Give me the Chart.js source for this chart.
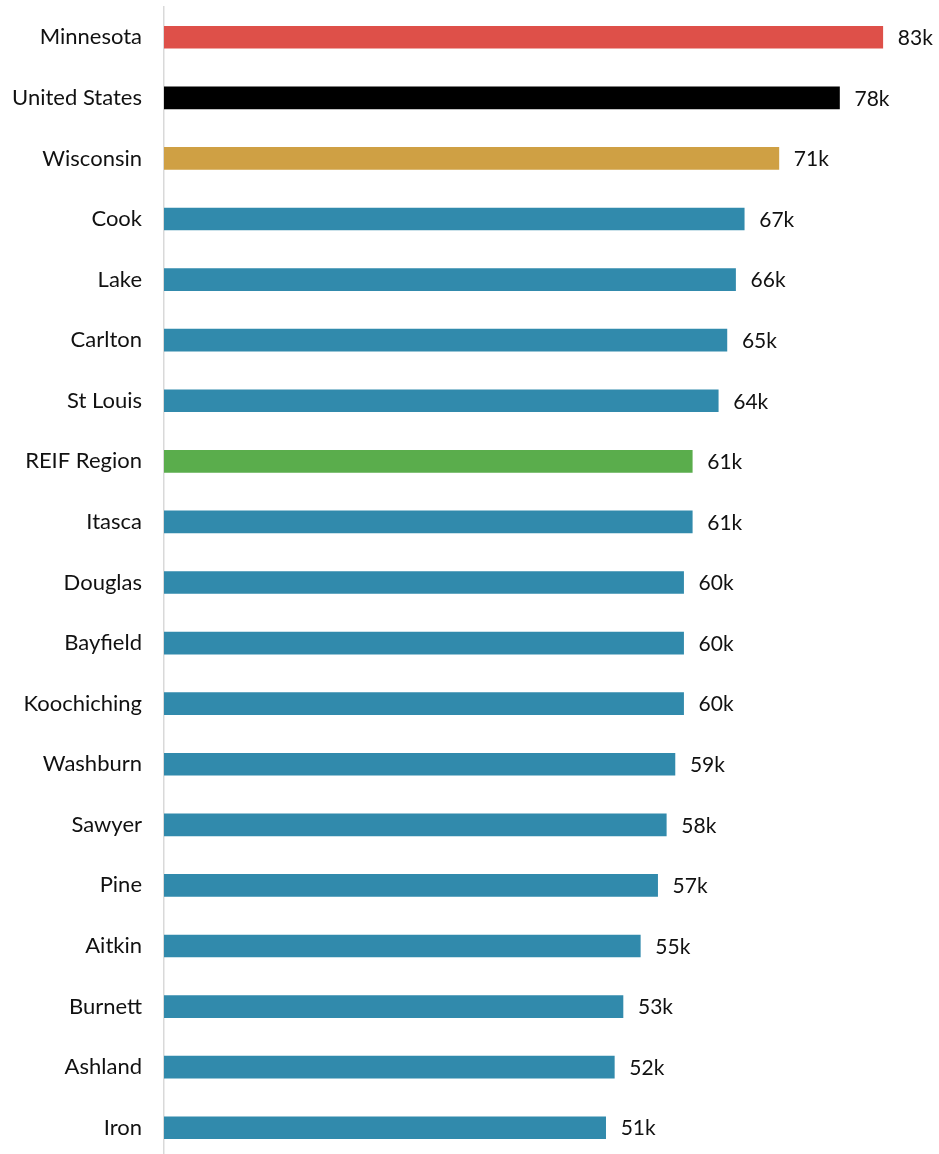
<!DOCTYPE html>
<html>
<head>
<meta charset="utf-8">
<script src="https://cdn.jsdelivr.net/npm/chart.js@4"></script>
<style>
html,body{margin:0;padding:0;background:#fff;overflow:hidden;}
#wrap{width:939px;height:1158px;position:relative;}
</style>
</head>
<body>
<div id="wrap"><canvas id="c"></canvas></div>
<script>
const places = ['Minnesota','United States','Wisconsin','Cook','Lake','Carlton','St Louis','REIF Region','Itasca','Douglas','Bayfield','Koochiching','Washburn','Sawyer','Pine','Aitkin','Burnett','Ashland','Iron'];
const income = [83,78,71,67,66,65,64,61,61,60,60,60,59,58,57,55,53,52,51];
const barColors = ['#de5049','#000000','#cfa044','#318aac','#318aac','#318aac','#318aac','#5aad4c','#318aac','#318aac','#318aac','#318aac','#318aac','#318aac','#318aac','#318aac','#318aac','#318aac','#318aac'];

const FONT = 'Lato, "Open Sans", sans-serif';

// value labels at the end of each bar
const endLabels = {
  id:'endLabels',
  afterDatasetsDraw(chart){
    const ctx = chart.ctx;
    const meta = chart.getDatasetMeta(0);
    ctx.save();
    ctx.font = '21px ' + FONT;
    ctx.fillStyle = '#111';
    ctx.textAlign = 'left';
    ctx.textBaseline = 'middle';
    meta.data.forEach((bar,i)=>{
      ctx.fillText(income[i]+'k', bar.x+15, bar.y+1);
    });
    ctx.restore();
  }
};

new Chart('c',{
  type:'bar',
  data:{
    labels:places,
    datasets:[{data:income,backgroundColor:barColors,barThickness:22,borderWidth:0}]
  },
  options:{
    indexAxis:'y',
    responsive:true,
    maintainAspectRatio:false,
    animation:false,
    layout:{padding:{top:7,right:939-164-85*8.66,left:0,bottom:0}},
    plugins:{legend:{display:false},tooltip:{enabled:false}},
    scales:{
      x:{display:false,min:0,max:85},
      y:{
        afterFit:s=>{s.width=164;s.paddingTop=0;s.paddingBottom=0;},
        grid:{display:false,drawTicks:false},
        border:{display:true,color:'#d9d9d9',width:1.5},
        ticks:{color:'#111',padding:22,font:{family:FONT,size:22}}
      }
    }
  },
  plugins:[endLabels]
});
</script>
</body>
</html>
